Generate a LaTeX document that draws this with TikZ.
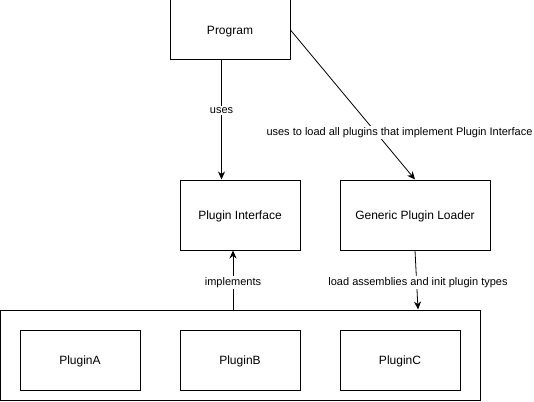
\documentclass[tikz,border=0pt]{standalone}
\usepackage{fontspec}
\setmainfont{Liberation Sans}
\usetikzlibrary{arrows.meta}
\begin{document}
\begin{tikzpicture}[x=1pt,y=-1pt,
  box/.style={draw, line width=1pt, fill=white, inner sep=0pt, text height=1.15em, text depth=0.2em, font=\fontsize{12}{14}\selectfont},
  conn/.style={line width=0.8pt, -{Stealth[length=8pt,width=7pt]}},
  lab/.style={fill=white, inner sep=1pt, yshift=-1.5pt, font=\fontsize{11}{13}\selectfont}]
\useasboundingbox (0,0) rectangle (534,401);
\node[box, minimum width=120pt, minimum height=60pt] (prog) at (230,30) {Program};
\node[box, minimum width=120pt, minimum height=70pt] (pi) at (240,215) {Plugin Interface};
\node[box, minimum width=150pt, minimum height=70pt] (gpl) at (415,215) {Generic Plugin Loader};
\node[box, minimum width=480pt, minimum height=90pt] (cont) at (240.5,355) {};
\node[box, minimum width=120pt, minimum height=60pt] (pa) at (80,360) {PluginA};
\node[box, minimum width=120pt, minimum height=60pt] (pb) at (240,360) {PluginB};
\node[box, minimum width=120pt, minimum height=60pt] (pc) at (400,360) {PluginC};
\coordinate (ux) at (221.5,0);
\coordinate (ix) at (233,0);
\coordinate (lx) at (418,0);
\draw[conn] (prog.south -| ux) -- (pi.north -| ux);
\node[lab] (l1) at (221.5,109) {uses};
\draw[conn] (prog.east) -- (gpl.north);
\node[lab] (l2) at (399.5,131) {uses to load all plugins that implement Plugin Interface};
\draw[conn] (cont.north -| ix) -- (pi.south -| ix);
\node[lab] (l3) at (233,281) {implements};
\draw[conn] (gpl.south) -- (cont.north -| lx);
\node[lab] (l4) at (418,281) {load assemblies and init plugin types};
\end{tikzpicture}
\end{document}
